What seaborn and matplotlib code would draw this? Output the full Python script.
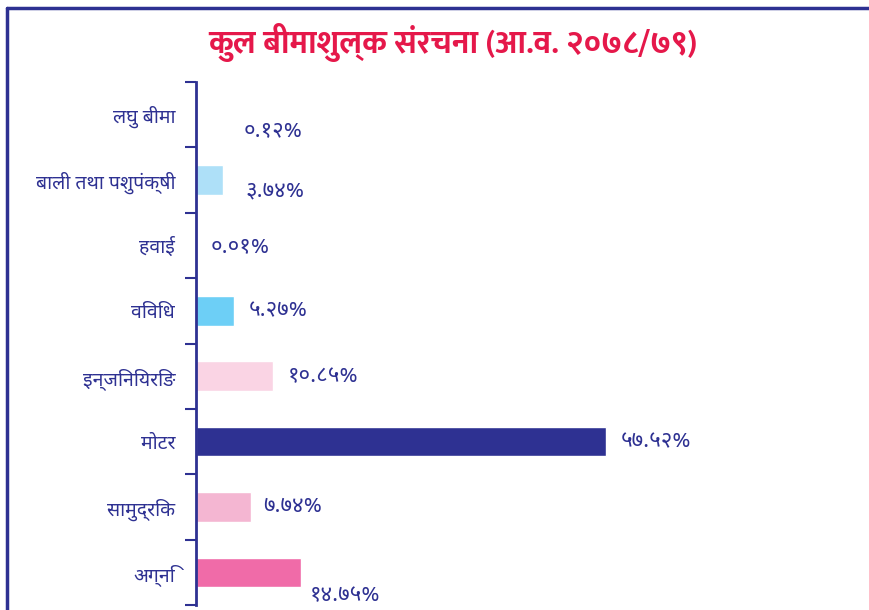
import matplotlib
matplotlib.use("Agg")
import matplotlib.pyplot as plt
import seaborn as sns
import pandas as pd

# data
categories = ['लघु बीमा', 'बाली तथा पशुपंक्षी', 'हवाई', 'विविध',
              'इन्जिनियरिङ', 'मोटर', 'सामुद्रिक', 'अग्नि']
values = [0.12, 3.74, 0.01, 5.27, 10.85, 57.52, 7.74, 14.75]
colors = ['#c9c9e8', '#aee0f8', '#8fd3f4', '#6dcff6',
          '#fad4e4', '#2e3192', '#f4b6d2', '#f06ba8']
title = 'कुल बीमाशुल्क संरचना (आ.व. २०७८/७९)'

# label offsets from bar end, in pixels (dx right, dy down)
label_dx = [47, 23, 15, 15, 14, 15, 12, 9]
label_dy = [16, 11, 1, 0, 0, 0, 0, 23]

navy = '#2e3192'
dev_digits = str.maketrans('0123456789', '०१२३४५६७८९')

sns.set_style("white")
plt.rcParams['font.family'] = ['Noto Sans Devanagari', 'DejaVu Sans']

fig = plt.figure(figsize=(8.7, 6.1), dpi=100)
ax = fig.add_axes([196/870, 5/610, 674/870, 523/610])

df = pd.DataFrame({'cat': categories, 'val': values})
sns.barplot(data=df, x='val', y='cat', hue='cat', palette=colors,
            legend=False, width=0.45, saturation=1, ax=ax)

ax.set_xlim(0, 674/7.13)
ax.set_ylim(len(categories) - 0.5, -0.5)
ax.set_xlabel('')
ax.set_ylabel('')
ax.set_xticks([])

# tick marks between categories, labels at the centres
ax.set_yticks([i - 0.5 for i in range(len(categories) + 1)], minor=True)
ax.tick_params(axis='y', which='minor', left=True, length=8, width=1.5,
               color=navy, direction='out')
ax.tick_params(axis='y', which='major', left=False, length=0, pad=15,
               labelsize=14, labelcolor=navy)

for s in ['top', 'right', 'bottom']:
    ax.spines[s].set_visible(False)
ax.spines['left'].set_color(navy)
ax.spines['left'].set_linewidth(2)

# value labels
for i, v in enumerate(values):
    txt = '{:.2f}%'.format(v).translate(dev_digits)
    ax.annotate(txt, xy=(v, i), xytext=(label_dx[i], -label_dy[i]),
                textcoords='offset pixels', ha='left', va='center',
                fontsize=16, color=navy)

fig.text(0.52, 0.931, title, ha='center', va='center', fontsize=23,
         color='#e5184a', fontweight='bold', family=['Mukta', 'DejaVu Sans'])

# frame lines on top and left
fig.add_artist(plt.Line2D([7/870, 7/870], [0, 1 - 8/610], color=navy, lw=2.5))
fig.add_artist(plt.Line2D([7/870, 1], [1 - 8/610, 1 - 8/610], color=navy, lw=2.5))

fig.savefig("out.png", dpi=100)
